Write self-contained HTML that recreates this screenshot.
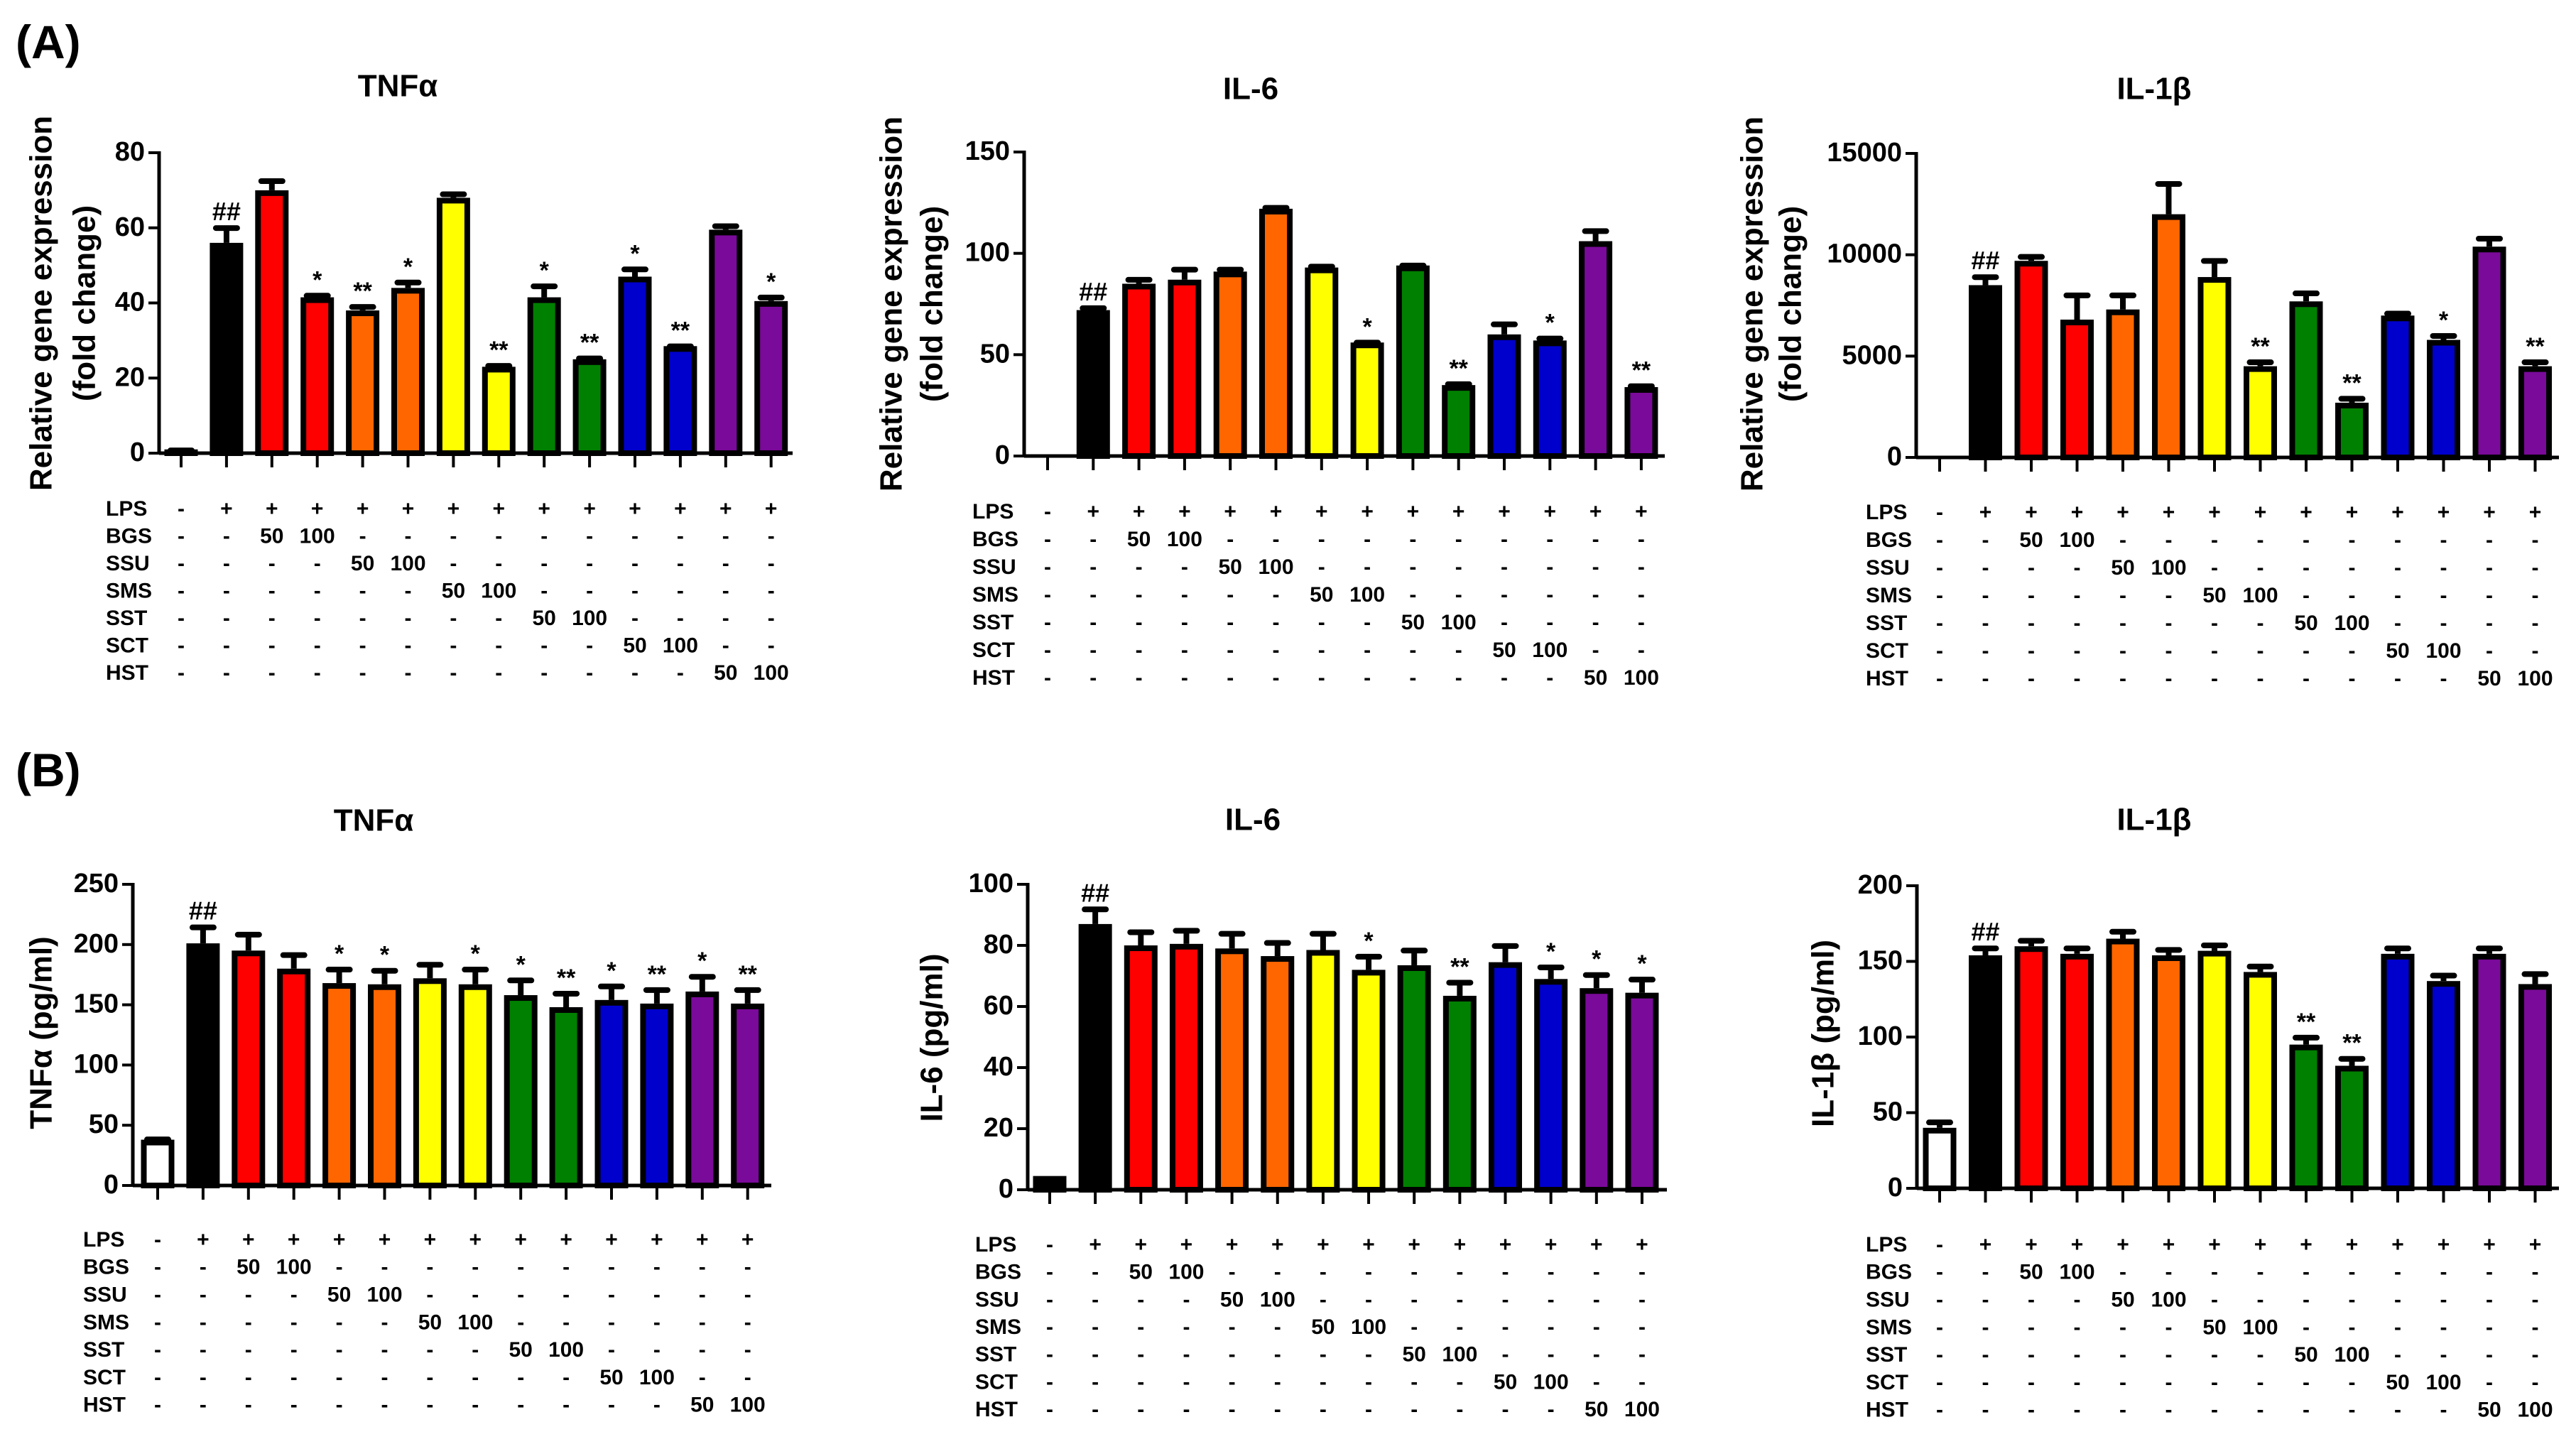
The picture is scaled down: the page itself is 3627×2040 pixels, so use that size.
<!DOCTYPE html>
<html><head><meta charset="utf-8"><style>
html,body{margin:0;padding:0;background:#fff}
svg{display:block}
text{font-family:"Liberation Sans",Arial,sans-serif;font-weight:bold;fill:#000}
</style></head><body>
<svg id="fig" width="3627" height="2040" viewBox="0 0 3627 2040" xmlns="http://www.w3.org/2000/svg">
<rect width="3627" height="2040" fill="#fff"/>
<text x="22" y="82" font-size="66">(A)</text>
<text x="22" y="1107" font-size="66">(B)</text>
</svg>
<script>
const colors = ["#000000","#000000","#ff0000","#ff0000","#ff6600","#ff6600","#ffff00","#ffff00","#008000","#008000","#0000cc","#0000cc","#7a0a99","#7a0a99"];
const rowNames = ["LPS","BGS","SSU","SMS","SST","SCT","HST"];
const rowLPS = ["-","+","+","+","+","+","+","+","+","+","+","+","+","+"];
const doses = ["50","100"];

const aTnfVals = [1,56,70,41.5,38,44,68,23,41.5,25,47,28.5,59.5,40.5];
const aTnfErr  = [0.3,4.5,3,1,1.5,2,1.5,0.8,3.5,0.8,2.5,0.5,1.5,1.5];
const aTnfSig  = ["","##","","*","**","*","","**","*","**","*","**","","*"];
const aTnfTicks = [0,20,40,60,80];

const aIl6Vals = [0,72,85,87,91,122,93,56,94,35,60,57,106,34];
const aIl6Err  = [0,2,3,6,2,1.5,1.5,1,1,1.5,6,2,6,1.5];
const aIl6Sig  = ["","##","","","","","","*","","**","","*","","**"];
const aIl6Ticks = [0,50,100,150];

const aIl1Vals = [0,8500,9700,6800,7300,12000,8900,4500,7700,2700,7000,5800,10400,4500];
const aIl1Err  = [0,500,300,1300,800,1600,900,300,500,300,200,300,500,300];
const aIl1Sig  = ["","##","","","","","","**","","**","","*","","**"];
const aIl1Ticks = [0,5000,10000,15000];

const bTnfVals = [38,201,195,180,168,167,172,167,158,148,154,151,161,151];
const bTnfErr  = [2,15,15,13,13,13,13,14,14,13,13,13,14,13];
const bTnfSig  = ["","##","","","*","*","","*","*","**","*","**","*","**"];
const bTnfTicks = [0,50,100,150,200,250];

const bIl6Vals = [4.5,87,80,80.5,79,76.5,78.5,72,73.5,63.5,74.5,69,66,64.5];
const bIl6Err  = [0,5.5,5,5,5.5,5,6,5,5.5,5,6,4.5,5,5];
const bIl6Sig  = ["","##","","","","","","*","","**","","*","*","*"];
const bIl6Ticks = [0,20,40,60,80,100];

const bIl1Vals = [40,154,160,155,165,154,157,143,95,81,155,137,155,135];
const bIl1Err  = [5,6,5,5,6,5,5,5,6,6,5,5,5,8];
const bIl1Sig  = ["","##","","","","","","","**","**","","","",""];
const bIl1Ticks = [0,50,100,150,200];

const NS="http://www.w3.org/2000/svg";
const svg=document.getElementById('fig');
function mk(tag,attrs,parent){const e=document.createElementNS(NS,tag);for(const k in attrs)e.setAttribute(k,attrs[k]);(parent||svg).appendChild(e);return e;}

function panel(p){
  const g=mk('g',{});
  
  
  const ymax=p.ticks[p.ticks.length-1];
  const Y=v=>p.y0-(v/ymax)*(p.y0-p.yTop);
  const X=i=>p.b0+i*p.sp;
  const t=mk('text',{x:p.tx,y:p.ty,'font-size':44,'text-anchor':'middle','dominant-baseline':'middle'},g);
  t.textContent=p.title;
  
  
  p.ylab.forEach((s,k)=>{
    const yl=mk('text',{x:0,y:0,'font-size':44,'text-anchor':'middle','dominant-baseline':'middle',transform:`translate(${p.ylx[k]},${p.lcy}) rotate(-90)`},g);
    yl.textContent=s;
    
    
  });
  p.vals.forEach((v,i)=>{
    const cx=X(i), w=47, bw=8;
    if(v>0){
      const top=Y(v);
      const fill=(p.white&&i===0)?'#ffffff':colors[i];
      const r=mk('rect',{x:cx-w/2+bw/2,y:top+bw/2,width:w-bw,height:Math.max(0,p.y0-top-bw/2),fill:fill,stroke:'#000','stroke-width':bw},g);
      
      
      const e=p.err[i];
      if(e>0){
        const et=Y(v+e);
        const l=mk('line',{x1:cx,x2:cx,y1:top,y2:et,stroke:'#000','stroke-width':8},g);
        
        
        const c=mk('line',{x1:cx-15,x2:cx+15,y1:et+3,y2:et+3,stroke:'#000','stroke-width':8,'stroke-linecap':'round'},g);
        
        
      }
      if(p.sig[i]){
        const s=mk('text',{x:cx,y:Y(v+e)-8,'font-size':p.sig[i]==='##'?36:34,'text-anchor':'middle'},g);
        s.textContent=p.sig[i];
        
        
      }
    }
    const tk=mk('line',{x1:cx,x2:cx,y1:p.y0,y2:p.y0+20,stroke:'#000','stroke-width':4},g);
    
    
  });
  const ya=mk('line',{x1:p.x0,x2:p.x0,y1:p.yTop-2,y2:p.y0+2,stroke:'#000','stroke-width':5},g);
  
  
  const xa=mk('line',{x1:p.x0,x2:p.xEnd,y1:p.y0,y2:p.y0,stroke:'#000','stroke-width':5},g);
  
  
  p.ticks.forEach(v=>{
    const y=Y(v);
    const l=mk('line',{x1:p.x0-15,x2:p.x0,y1:y,y2:y,stroke:'#000','stroke-width':4},g);
    
    
    const tl=mk('text',{x:p.x0-20,y:y+1,'font-size':38,'text-anchor':'end','dominant-baseline':'middle'},g);
    tl.textContent=String(v);
    
    
  });
  rowNames.forEach((rn,r)=>{
    const y=p.labY0+r*p.rowSp;
    const n=mk('text',{x:p.labX,y:y,'font-size':30,'dominant-baseline':'middle'},g);
    n.textContent=rn;
    
    
    for(let i=0;i<14;i++){
      let s;
      if(r===0) s=rowLPS[i];
      else { const a=2*r, b=2*r+1; s = i===a?doses[0]:(i===b?doses[1]:'-'); }
      const c=mk('text',{x:X(i),y:y,'font-size':30,'text-anchor':'middle','dominant-baseline':'middle'},g);
      c.textContent=s;
      
      
    }
  });
}

panel({name:'chart-a-tnfa',title:'TNFα',tx:560,ty:124,ylab:['Relative gene expression','(fold change)'],ylx:[61,122],lcy:427,
  x0:224,xEnd:1116,y0:638,yTop:215,b0:255,sp:63.9,labX:149,labY0:718,rowSp:38.5,vals:aTnfVals,err:aTnfErr,sig:aTnfSig,ticks:aTnfTicks});
panel({name:'chart-a-il6',title:'IL-6',tx:1761,ty:128,ylab:['Relative gene expression','(fold change)'],ylx:[1258,1315],lcy:428,
  x0:1442,xEnd:2344,y0:642,yTop:214,b0:1475,sp:64.3,labX:1369,labY0:722,rowSp:39,vals:aIl6Vals,err:aIl6Err,sig:aIl6Sig,ticks:aIl6Ticks});
panel({name:'chart-a-il1b',title:'IL-1β',tx:3033,ty:128,ylab:['Relative gene expression','(fold change)'],ylx:[2470,2524],lcy:428,
  x0:2698,xEnd:3603,y0:644,yTop:216,b0:2731,sp:64.5,labX:2627,labY0:723,rowSp:39,vals:aIl1Vals,err:aIl1Err,sig:aIl1Sig,ticks:aIl1Ticks});
panel({name:'chart-b-tnfa',title:'TNFα',tx:526,ty:1158,ylab:['TNFα (pg/ml)'],ylx:[61],lcy:1454,white:true,
  x0:187,xEnd:1086,y0:1669,yTop:1245,b0:222,sp:63.9,labX:117,labY0:1747,rowSp:38.8,vals:bTnfVals,err:bTnfErr,sig:bTnfSig,ticks:bTnfTicks});
panel({name:'chart-b-il6',title:'IL-6',tx:1764,ty:1157,ylab:['IL-6 (pg/ml)'],ylx:[1315],lcy:1461,
  x0:1447,xEnd:2347,y0:1675,yTop:1245,b0:1478,sp:64.15,labX:1373,labY0:1754,rowSp:38.7,vals:bIl6Vals,err:bIl6Err,sig:bIl6Sig,ticks:bIl6Ticks});
panel({name:'chart-b-il1b',title:'IL-1β',tx:3033,ty:1157,ylab:['IL-1β (pg/ml)'],ylx:[2570],lcy:1455,white:true,
  x0:2699,xEnd:3603,y0:1673,yTop:1247,b0:2731,sp:64.5,labX:2627,labY0:1754,rowSp:38.8,vals:bIl1Vals,err:bIl1Err,sig:bIl1Sig,ticks:bIl1Ticks});
</script>
</body></html>
